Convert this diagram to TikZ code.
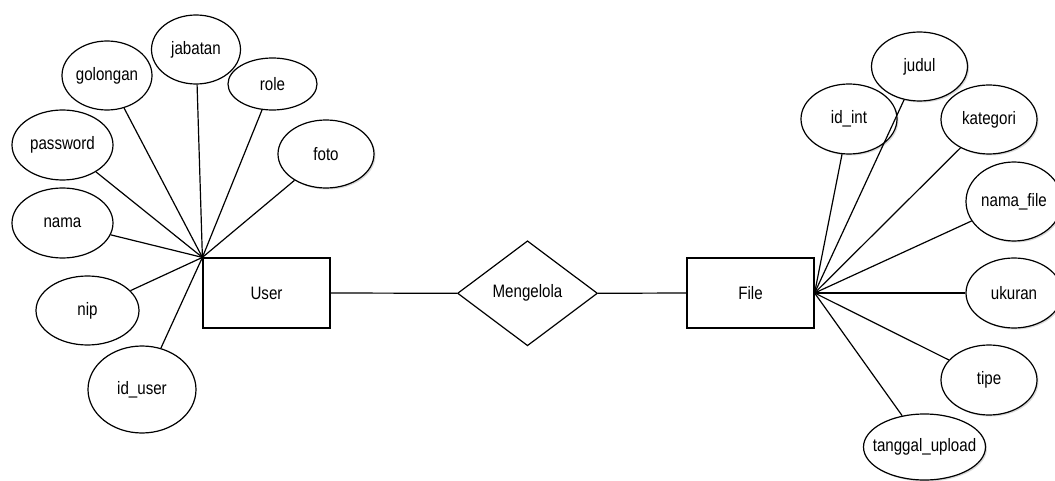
\documentclass[tikz,border=0pt]{standalone}
\usepackage{fontspec}
\setmainfont{Liberation Sans}[FakeStretch=0.84]
\usetikzlibrary{shapes.geometric,shadows}
\newcommand\ztext[1]{\makebox[0pt]{#1}}
\begin{document}
\begin{tikzpicture}[x=1pt,y=-1pt,
  every node/.style={font=\fontsize{18}{20}\selectfont},
  attr/.style={ellipse,draw,line width=1.2pt,fill=white,inner sep=0pt},
  shd/.style={drop shadow={opacity=0.3,shadow xshift=1.5pt,shadow yshift=-1.5pt}},
  entity/.style={rectangle,draw,line width=1.2pt,fill=white,minimum width=127pt,minimum height=70pt,inner sep=0pt},
  rel/.style={diamond,draw,line width=1.2pt,fill=white,minimum width=140pt,minimum height=105pt,inner sep=0pt},
  conn/.style={line width=1.2pt}]
\useasboundingbox (0,0) rectangle (1055,481);
% entities and relation
\node[entity] (user) at (266.5,293) {\ztext{User}};
\node[entity] (file) at (750.5,293) {\ztext{File}};
\node[rel] (rel) at (527.5,293.3) {\ztext{Mengelola}};
\coordinate (uh) at (user.north west);
\coordinate (fh) at (file.east);
% user attributes
\node[attr,minimum width=89pt,minimum height=69pt] (jabatan) at (196,49.5) {\ztext{jabatan}};
\node[attr,minimum width=90pt,minimum height=69pt] (golongan) at (107,75.5) {\ztext{golongan}};
\node[attr,minimum width=89pt,minimum height=52pt] (role) at (272.5,84) {\ztext{role}};
\node[attr,minimum width=101pt,minimum height=70pt] (password) at (62.5,145) {\ztext{password}};
\node[attr,shd,minimum width=96pt,minimum height=68pt] (foto) at (326,154) {\ztext{foto}};
\node[attr,minimum width=101pt,minimum height=70pt] (nama) at (62.5,223) {\ztext{nama}};
\node[attr,minimum width=103pt,minimum height=69pt] (nip) at (87.5,310.5) {\ztext{nip}};
\node[attr,minimum width=108pt,minimum height=87pt] (iduser) at (142,389.5) {\ztext{id\_user}};
% file attributes
\node[attr,shd,minimum width=96pt,minimum height=69pt] (judul) at (919.5,66.5) {\ztext{judul}};
\node[attr,shd,minimum width=96pt,minimum height=70pt] (idint) at (849,119) {\ztext{id\_int}};
\node[attr,shd,minimum width=96pt,minimum height=69pt] (kategori) at (989,119.5) {\ztext{kategori}};
\node[attr,shd,minimum width=96pt,minimum height=79pt] (namafile) at (1014,201.5) {\ztext{nama\_file}};
\node[attr,shd,minimum width=96pt,minimum height=70pt] (ukuran) at (1014,293) {\ztext{ukuran}};
\node[attr,shd,minimum width=96pt,minimum height=70pt] (tipe) at (989,380) {\ztext{tipe}};
\node[attr,shd,minimum width=122pt,minimum height=66pt] (tanggal) at (924.5,447) {\ztext{tanggal\_upload}};
% connectors
\draw[conn] (user.east) -- (rel.west);
\draw[conn] (rel.east) -- (file.west);
\foreach \a in {jabatan,golongan,role,password,foto,nama,nip,iduser}
  \draw[conn] (\a) -- (uh);
\foreach \a in {judul,idint,kategori,namafile,ukuran,tipe,tanggal}
  \draw[conn] (\a) -- (fh);
\end{tikzpicture}
\end{document}
